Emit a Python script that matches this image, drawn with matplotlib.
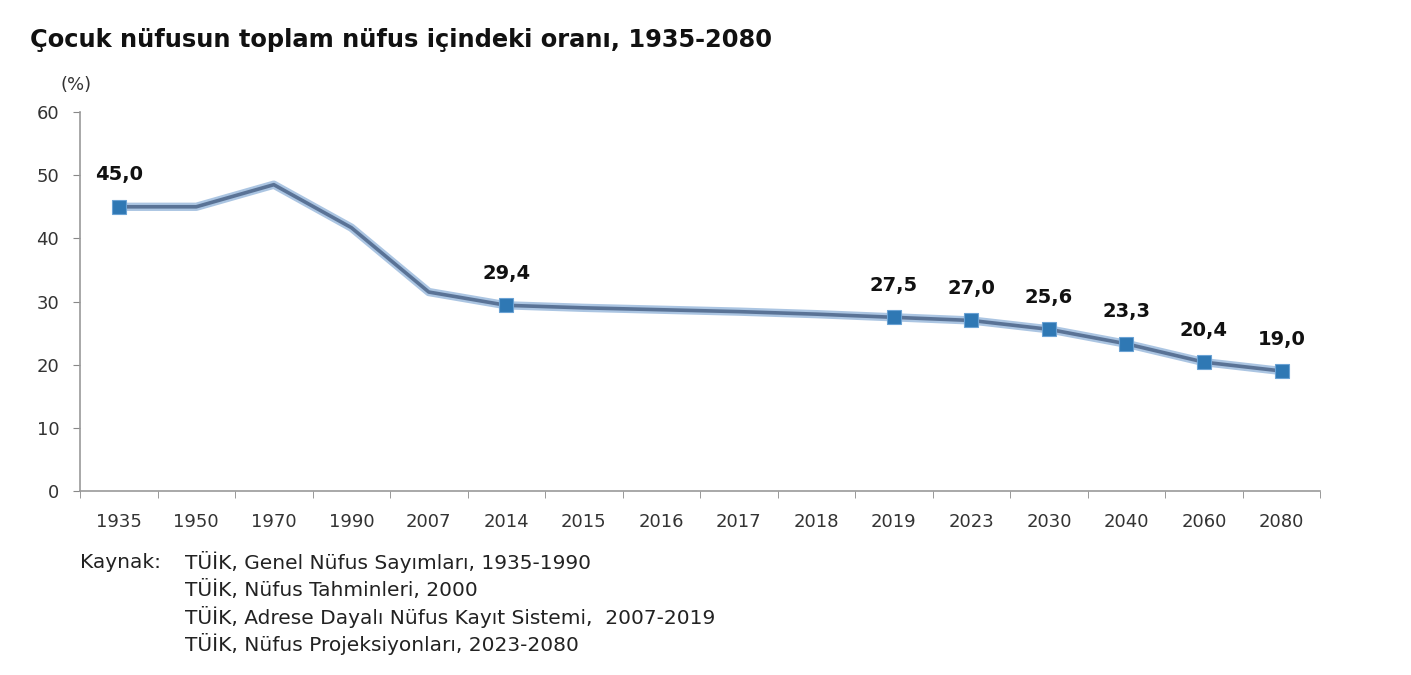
import matplotlib
matplotlib.use("Agg")
import matplotlib.pyplot as plt
from matplotlib.ticker import FixedLocator

plt.rcParams['font.family'] = ['DejaVu Sans']

years = ["1935", "1950", "1970", "1990", "2007", "2014", "2015", "2016",
         "2017", "2018", "2019", "2023", "2030", "2040", "2060", "2080"]
values = [45.0, 45.0, 48.5, 41.7, 31.5, 29.4, 29.0, 28.7,
          28.4, 28.0, 27.5, 27.0, 25.6, 23.3, 20.4, 19.0]
labeled = ["1935", "2014", "2019", "2023", "2030", "2040", "2060", "2080"]

title = "Çocuk nüfusun toplam nüfus içindeki oranı, 1935-2080"
source_lines = ["TÜİK, Genel Nüfus Sayımları, 1935-1990",
                "TÜİK, Nüfus Tahminleri, 2000",
                "TÜİK, Adrese Dayalı Nüfus Kayıt Sistemi,  2007-2019",
                "TÜİK, Nüfus Projeksiyonları, 2023-2080"]

fig = plt.figure(figsize=(14.11, 6.75), dpi=100)
ax = fig.add_axes([0.0567, 0.2726, 0.879, 0.5614])

x = list(range(len(years)))
ax.plot(x, values, color="#abc5e2", lw=6, solid_joinstyle="round", zorder=2)
ax.plot(x, values, color="#5a7396", lw=2.6, solid_joinstyle="round", zorder=3)
mx = [years.index(y) for y in labeled]
my = [values[i] for i in mx]
ax.plot(mx, my, linestyle="none", marker="s", markersize=9.5,
        color="#2f78b4", markeredgecolor="#6aa2d4", markeredgewidth=0.8, zorder=4)

for i in mx:
    ax.annotate(f"{values[i]:.1f}".replace(".", ","), (i, values[i]),
                xytext=(0, 23), textcoords="offset points",
                ha="center", va="center", fontsize=14, fontweight="bold",
                color="#111111")

ax.set_xlim(-0.5, len(years) - 0.5)
ax.set_ylim(0, 60)
ax.set_yticks(range(0, 61, 10))
ax.set_xticks(x)
ax.set_xticklabels(years)
ax.xaxis.set_minor_locator(FixedLocator([i - 0.5 for i in range(len(years) + 1)]))
ax.tick_params(axis="x", which="major", length=0, pad=16, labelsize=13, labelcolor="#333333")
ax.tick_params(axis="x", which="minor", length=5, color="#888888", direction="out")
ax.tick_params(axis="y", length=5, color="#888888", pad=10, labelsize=13, labelcolor="#333333")
for s in ["top", "right"]:
    ax.spines[s].set_visible(False)
for s in ["left", "bottom"]:
    ax.spines[s].set_color("#999999")
    ax.spines[s].set_linewidth(1.2)

fig.text(0.021, 0.94, title, fontsize=17.4, fontweight="bold", color="#111111",
         ha="left", va="center")
fig.text(0.043, 0.874, "(%)", fontsize=13, color="#333333", ha="left", va="center")

fig.text(0.057, 0.167, "Kaynak:", fontsize=14.5, color="#222222", ha="left", va="center")
for k, line in enumerate(source_lines):
    fig.text(0.131, 0.167 - k * 0.0405, line, fontsize=14.5, color="#222222",
             ha="left", va="center")

fig.savefig("out.png", dpi=100)
